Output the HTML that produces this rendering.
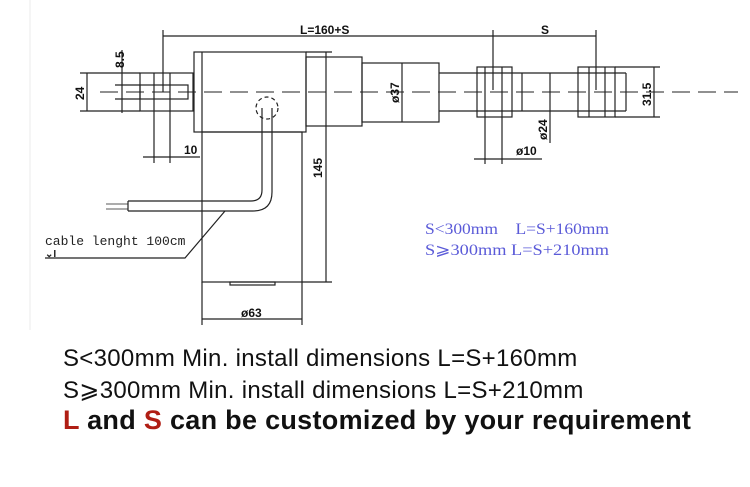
<!DOCTYPE html>
<html><head><meta charset="utf-8"><style>
body{margin:0;background:#fff;width:750px;height:487px;overflow:hidden;position:relative;font-family:"Liberation Sans",sans-serif}
.t{position:absolute;white-space:nowrap;color:#111}
</style></head><body>
<svg width="750" height="487" style="position:absolute;left:0;top:0" font-family="Liberation Sans" >
<g stroke="#222" stroke-width="1.2" fill="none">
<line x1="30" y1="0" x2="30" y2="330" stroke="#eee"/>
<line x1="163" y1="36" x2="493" y2="36"/>
<line x1="163" y1="30" x2="163" y2="92"/>
<line x1="493" y1="36" x2="596" y2="36"/>
<line x1="493" y1="30" x2="493" y2="90"/>
<line x1="596" y1="30" x2="596" y2="90"/>
<rect x="194" y="52" width="112" height="80"/>
<line x1="202" y1="52" x2="202" y2="132"/>
<rect x="306" y="57" width="56" height="69"/>
<rect x="362" y="63" width="77" height="59"/>
<line x1="402" y1="63" x2="402" y2="122"/>
<line x1="439" y1="73" x2="626" y2="73"/>
<line x1="439" y1="111" x2="626" y2="111"/>
<line x1="522" y1="73" x2="522" y2="111"/>
<line x1="626" y1="73" x2="626" y2="111"/>
<rect x="477" y="67" width="35" height="50"/>
<line x1="485" y1="67" x2="485" y2="164"/>
<line x1="502" y1="67" x2="502" y2="164"/>
<line x1="474" y1="159" x2="542" y2="159"/>
<rect x="578" y="67" width="37" height="50"/>
<line x1="589" y1="67" x2="589" y2="117"/>
<line x1="605" y1="67" x2="605" y2="117"/>
<line x1="615" y1="67" x2="660" y2="67"/>
<line x1="615" y1="117" x2="660" y2="117"/>
<line x1="654" y1="67" x2="654" y2="117"/>
<line x1="550" y1="73" x2="550" y2="143"/>
<line x1="306" y1="52" x2="332" y2="52"/>
<line x1="302" y1="282" x2="332" y2="282"/>
<line x1="326" y1="52" x2="326" y2="282"/>
<rect x="202" y="132" width="100" height="150"/>
<rect x="230" y="282" width="45" height="3"/>
<line x1="202" y1="282" x2="202" y2="325"/>
<line x1="302" y1="282" x2="302" y2="325"/>
<line x1="202" y1="319" x2="302" y2="319"/>
<rect x="140" y="73" width="53" height="38"/>
<rect x="140" y="85" width="48" height="14"/>
<line x1="154" y1="73" x2="154" y2="163"/>
<line x1="170" y1="73" x2="170" y2="163"/>
<line x1="143" y1="157" x2="200" y2="157"/>
<line x1="80" y1="73" x2="140" y2="73"/>
<line x1="80" y1="111" x2="140" y2="111"/>
<line x1="87" y1="73" x2="87" y2="111"/>
<line x1="122" y1="50" x2="122" y2="113"/>
<line x1="115" y1="85" x2="140" y2="85"/>
<line x1="115" y1="99" x2="140" y2="99"/>
<circle cx="267" cy="108" r="11" stroke-dasharray="4 3"/>
<path d="M262 108 V190 Q262 201 251 201 H128"/>
<path d="M272 108 V192 Q272 211 253 211 H128"/>
<line x1="128" y1="201" x2="128" y2="211"/>
<line x1="106" y1="204" x2="128" y2="204" stroke-width="0.8"/>
<line x1="106" y1="209" x2="128" y2="209" stroke-width="0.8"/>
<path d="M225 211 L185 258 H45"/>
<line x1="100" y1="92" x2="738" y2="92" stroke-dasharray="18 8" stroke-width="1"/>
</g>
<g fill="#111" font-weight="bold" font-size="12">
<text x="300" y="34">L=160+S</text>
<text x="541" y="34">S</text>
<text x="184" y="154">10</text>
<text x="241" y="317">ø63</text>
<text x="516" y="155">ø10</text>
<text transform="translate(124,68) rotate(-90)">8.5</text>
<text transform="translate(84,100) rotate(-90)">24</text>
<text transform="translate(322,178) rotate(-90)">145</text>
<text transform="translate(399,103) rotate(-90)">ø37</text>
<text transform="translate(547,140) rotate(-90)">ø24</text>
<text transform="translate(651,106) rotate(-90)">31.5</text>
</g>
<text x="45" y="245" font-family="Liberation Mono" font-size="13" fill="#222">cable lenght 100cm</text>
<text x="45" y="257" font-size="10" fill="#222" font-weight="bold">⌄I</text>
<g fill="#5a5ad8" font-family="Liberation Serif" font-size="16">
<text x="425" y="234" textLength="184" lengthAdjust="spacingAndGlyphs">S&lt;300mm&#160;&#160;&#160;&#160;L=S+160mm</text>
<text x="425" y="255" textLength="184" lengthAdjust="spacingAndGlyphs">S⩾300mm L=S+210mm</text>
</g>
</svg>
<div class="t" style="left:63px;top:345px;font-size:24px;letter-spacing:0.3px">S&lt;300mm Min. install dimensions L=S+160mm</div>
<div class="t" style="left:63px;top:376px;font-size:24px;letter-spacing:0.3px">S⩾300mm Min. install dimensions L=S+210mm</div>
<div class="t" style="left:63px;top:405px;font-size:27px;font-weight:bold;letter-spacing:0.3px"><span style="color:#b01e14">L</span> and <span style="color:#b01e14">S</span> can be customized by your requirement</div>
</body></html>
